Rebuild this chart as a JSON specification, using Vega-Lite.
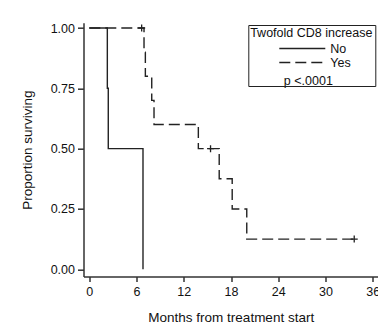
{
  "$schema": "https://vega.github.io/schema/vega-lite/v6.json",
  "width": 294.5,
  "height": 253.8,
  "autosize": {"type": "none"},
  "padding": {"left": 83.5, "top": 22.7, "right": 0, "bottom": 53.5},
  "background": "white",
  "config": {
    "view": {"stroke": null},
    "font": "Liberation Sans",
    "axis": {
      "grid": false,
      "domainColor": "#333",
      "domainWidth": 1.5,
      "tickColor": "#333",
      "tickWidth": 1.5,
      "labelFontSize": 12.5,
      "labelColor": "#111",
      "titleFontSize": 13.5,
      "titleFontWeight": "normal",
      "titleColor": "#111",
      "labelFlush": false,
      "labelOverlap": false
    }
  },
  "datasets": {
    "curves": [
      {"group": "No", "months": 0, "surv": 1.0},
      {"group": "No", "months": 2.29, "surv": 0.75},
      {"group": "No", "months": 2.41, "surv": 0.5},
      {"group": "No", "months": 6.82, "surv": 0.0},
      {"group": "Yes", "months": 0, "surv": 1.0},
      {"group": "Yes", "months": 6.95, "surv": 0.9},
      {"group": "Yes", "months": 7.12, "surv": 0.8},
      {"group": "Yes", "months": 7.93, "surv": 0.7},
      {"group": "Yes", "months": 8.22, "surv": 0.6},
      {"group": "Yes", "months": 13.85, "surv": 0.5},
      {"group": "Yes", "months": 16.5, "surv": 0.375},
      {"group": "Yes", "months": 18.15, "surv": 0.25},
      {"group": "Yes", "months": 20.0, "surv": 0.125},
      {"group": "Yes", "months": 33.65, "surv": 0.125}
    ],
    "censor": [
      {"group": "Yes", "months": 6.65, "surv": 1.0},
      {"group": "Yes", "months": 15.4, "surv": 0.5},
      {"group": "Yes", "months": 33.65, "surv": 0.125}
    ]
  },
  "layer": [
    {
      "data": {"name": "curves"},
      "mark": {"type": "line", "interpolate": "step-after", "strokeWidth": 1.4, "color": "#222"},
      "encoding": {
        "x": {
          "field": "months", "type": "quantitative",
          "scale": {"domain": [-0.737, 36.67], "nice": false, "zero": false},
          "axis": {"values": [0, 6, 12, 18, 24, 30, 36], "title": "Months from treatment start", "tickSize": 5, "labelPadding": 4, "titlePadding": 12}
        },
        "y": {
          "field": "surv", "type": "quantitative",
          "scale": {"domain": [-0.03, 1.022], "nice": false, "zero": false},
          "axis": {"values": [0, 0.25, 0.5, 0.75, 1], "format": ".2f", "title": "Proportion surviving", "tickSize": 6, "labelPadding": 3, "titlePadding": 16}
        },
        "strokeDash": {
          "field": "group", "type": "nominal",
          "scale": {"domain": ["No", "Yes", "p"], "range": [[1, 0], [11, 5], [0, 100]]},
          "legend": {
            "title": "Twofold CD8 increase",
            "orient": "none",
            "legendX": 164.8,
            "legendY": 2.3,
            "strokeColor": "#222",
            "padding": 2,
            "titleAnchor": "middle",
            "titleFontSize": 12.5,
            "titleFontWeight": "normal",
            "titleColor": "#111",
            "titlePadding": 2,
            "labelFontSize": 12.5,
            "labelColor": "#111",
            "symbolType": "stroke",
            "symbolSize": 2116,
            "symbolStrokeWidth": 1.4,
            "symbolStrokeColor": "#222",
            "symbolOffset": 7,
            "labelOffset": 4,
            "clipHeight": 14,
            "rowPadding": 0,
            "values": ["No", "Yes", "p"],
            "labelExpr": "datum.label == 'p' ? ' ' : datum.label"
          }
        }
      }
    },
    {
      "data": {"name": "censor"},
      "mark": {"type": "point", "shape": "M-1,0L1,0M0,-1L0,1", "size": 49, "filled": false, "stroke": "#222", "strokeWidth": 1.3, "opacity": 1},
      "encoding": {
        "x": {"field": "months", "type": "quantitative"},
        "y": {"field": "surv", "type": "quantitative"}
      }
    },
    {
      "data": {"values": [{"label": "p <.0001"}]},
      "mark": {"type": "text", "fontSize": 12.5, "color": "#111", "align": "center", "baseline": "middle"},
      "encoding": {
        "text": {"field": "label"},
        "x": {"datum": 27.82, "type": "quantitative"},
        "y": {"datum": 0.78, "type": "quantitative"}
      }
    }
  ]
}
